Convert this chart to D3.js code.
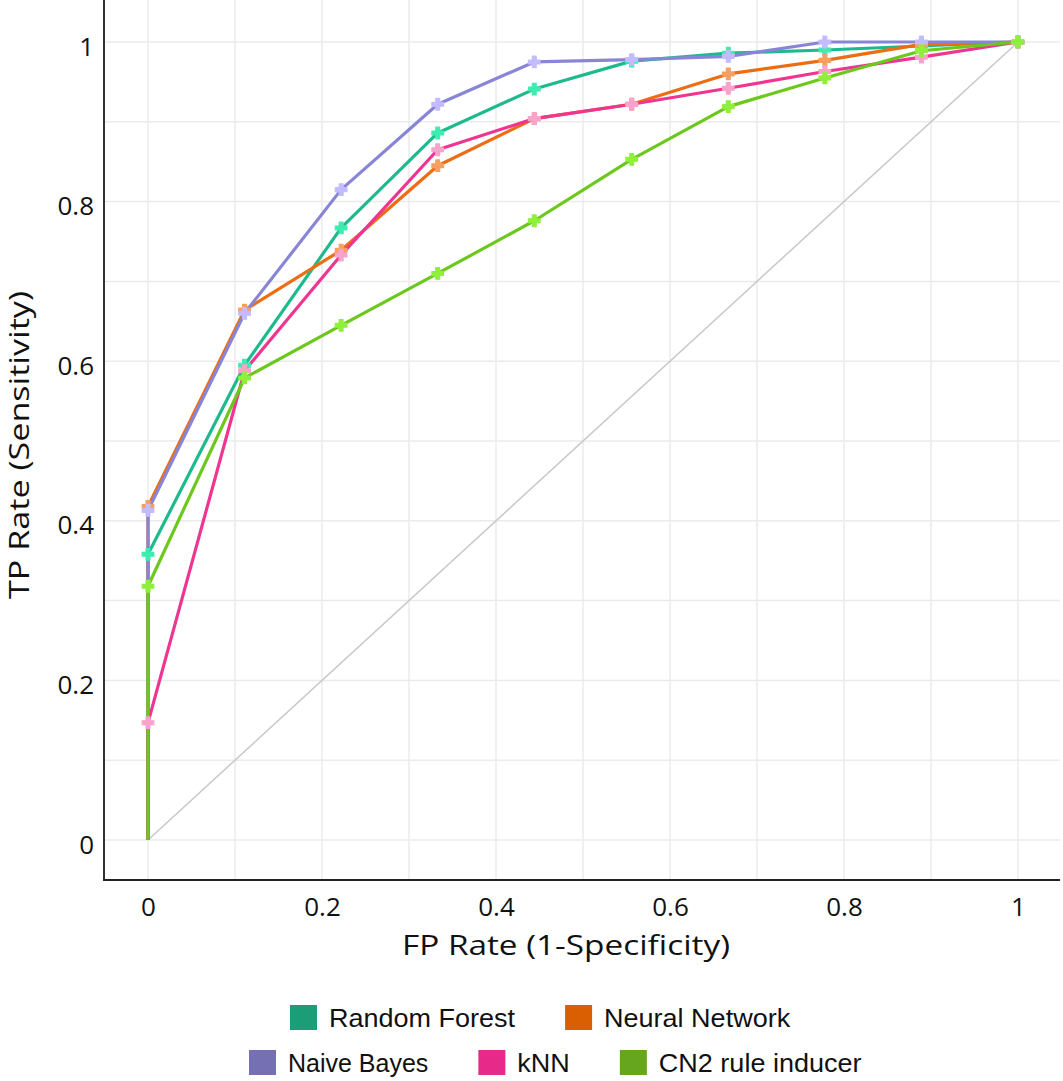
<!DOCTYPE html>
<html lang="en">
<head>
    <meta charset="UTF-8">
    <title>ROC curves</title>
    <style>
        body{
            margin:0;
            background:#fff;
        }
    </style>
    <script src="https://cdn.jsdelivr.net/npm/d3@7"></script>
</head>
<body>
<div id="container"></div>
</body>
<script>
    // FP rate positions shared by every curve
    var fpr = [0, 0, 0.111, 0.222, 0.333, 0.444, 0.556, 0.667, 0.778, 0.889, 1];

    var randomForest = [0, 0.358, 0.595, 0.767, 0.886, 0.941, 0.976, 0.986, 0.990, 0.995, 1];
    var neuralNetwork = [0, 0.418, 0.664, 0.739, 0.845, 0.904, 0.922, 0.960, 0.977, 0.997, 1];
    var naiveBayes = [0, 0.413, 0.660, 0.815, 0.922, 0.975, 0.978, 0.982, 1.0, 1.0, 1];
    var knn = [0, 0.147, 0.588, 0.733, 0.865, 0.904, 0.922, 0.942, 0.963, 0.981, 1];
    var cn2 = [0, 0.318, 0.579, 0.645, 0.710, 0.776, 0.853, 0.919, 0.955, 0.989, 1];

    var seriesNames = ['Random Forest', 'Neural Network', 'Naive Bayes', 'kNN', 'CN2 rule inducer'];
    var seriesValues = [randomForest, neuralNetwork, naiveBayes, knn, cn2];
    var legendRows = [['Random Forest', 'Neural Network'], ['Naive Bayes', 'kNN', 'CN2 rule inducer']];

    var tickValues = [0, 0.2, 0.4, 0.6, 0.8, 1];
    var gridValues = [0, 0.1, 0.2, 0.3, 0.4, 0.5, 0.6, 0.7, 0.8, 0.9, 1];

    var swatchColor = {
        'Random Forest': '#1b9e77', 'Neural Network': '#d95f02', 'Naive Bayes': '#7570b3',
        'kNN': '#e7298a', 'CN2 rule inducer': '#66a61e'
    };
    var lineColor = {
        'Random Forest': '#1fb98e', 'Neural Network': '#ee6c12', 'Naive Bayes': '#8985d6',
        'kNN': '#ee3590', 'CN2 rule inducer': '#6cc81c'
    };
    var markColor = {
        'Random Forest': '#3cecb0', 'Neural Network': '#f5a062', 'Naive Bayes': '#c2bbff',
        'kNN': '#f7a3cb', 'CN2 rule inducer': '#8ef03a'
    };

    var w = 1063, h = 1081;
    var axL = 104, axB = 880, plotR = 1060;

    var svg = d3.select('#container').append('svg').attr('width', w).attr('height', h);

    var x = d3.scaleLinear().domain([0, 1]).range([148, 1018]);
    var y = d3.scaleLinear().domain([0, 1]).range([840, 42]);

    // grid
    var grid = svg.append('g');
    grid.selectAll('.gx').data(gridValues).enter().append('line')
            .attr('x1', function (d) { return x(d); }).attr('x2', function (d) { return x(d); })
            .attr('y1', 0).attr('y2', axB)
            .attr('stroke', '#ebebeb').attr('stroke-width', 1.5);
    grid.selectAll('.gy').data(gridValues).enter().append('line')
            .attr('y1', function (d) { return y(d); }).attr('y2', function (d) { return y(d); })
            .attr('x1', axL).attr('x2', plotR)
            .attr('stroke', '#ebebeb').attr('stroke-width', 1.5);

    // axes: labels from d3 axis, no tick marks
    var xAxis = d3.axisBottom(x).tickValues(tickValues).tickSize(0).tickPadding(0)
            .tickFormat(d3.format('~g'));
    var yAxis = d3.axisLeft(y).tickValues(tickValues).tickSize(0).tickPadding(0)
            .tickFormat(d3.format('~g'));

    var gx = svg.append('g').attr('transform', 'translate(0,' + axB + ')').call(xAxis);
    gx.select('.domain').remove();
    gx.selectAll('text').attr('y', 36).attr('dy', 0)
            .attr('font-family', 'Open Sans').attr('font-size', 26).attr('fill', '#111');

    var gy = svg.append('g').attr('transform', 'translate(' + axL + ',0)').call(yAxis);
    gy.select('.domain').remove();
    gy.selectAll('text').attr('x', -10).attr('dy', '0.62em').attr('y', -3)
            .attr('font-family', 'Open Sans').attr('font-size', 26).attr('fill', '#111');

    svg.append('line').attr('x1', axL).attr('x2', axL).attr('y1', 0).attr('y2', axB + 1)
            .attr('stroke', '#333').attr('stroke-width', 2);
    svg.append('line').attr('x1', axL - 1).attr('x2', plotR).attr('y1', axB).attr('y2', axB)
            .attr('stroke', '#222').attr('stroke-width', 2);

    // diagonal
    svg.append('line').attr('x1', x(0)).attr('y1', y(0)).attr('x2', x(1)).attr('y2', y(1))
            .attr('stroke', '#c8c8c8').attr('stroke-width', 1.5);

    var line = d3.line()
            .x(function (d, i) { return x(fpr[i]); })
            .y(function (d) { return y(d); });

    seriesValues.forEach(function (vals, k) {
        var name = seriesNames[k];
        svg.append('path').datum(vals)
                .attr('d', line)
                .attr('fill', 'none')
                .attr('stroke', lineColor[name])
                .attr('stroke-width', 3.2)
                .attr('stroke-linejoin', 'round');
    });
    seriesValues.forEach(function (vals, k) {
        var name = seriesNames[k];
        svg.append('g').selectAll('path').data(vals.slice(1)).enter().append('path')
                .attr('d', d3.symbol().type(d3.symbolCross).size(75))
                .attr('transform', function (d, i) {
                    return 'translate(' + x(fpr[i + 1]) + ',' + y(d) + ')';
                })
                .attr('fill', markColor[name])
                .attr('stroke', markColor[name])
                .attr('stroke-width', 1.2)
                .attr('stroke-linejoin', 'round');
    });

    // titles
    svg.append('text').text('FP Rate (1-Specificity)')
            .attr('x', 566).attr('y', 955)
            .attr('text-anchor', 'middle')
            .attr('textLength', 328).attr('lengthAdjust', 'spacingAndGlyphs')
            .attr('font-family', 'Open Sans').attr('font-size', 27).attr('fill', '#111');
    svg.append('text').text('TP Rate (Sensitivity)')
            .attr('transform', 'translate(29,445) rotate(-90)')
            .attr('text-anchor', 'middle')
            .attr('textLength', 308).attr('lengthAdjust', 'spacingAndGlyphs')
            .attr('font-family', 'Open Sans').attr('font-size', 27).attr('fill', '#111');

    // legend rows, each starting at its own left edge
    var rowStart = [290, 249], sw = 27, swGap = 12, itemGap = 50;
    legendRows.forEach(function (row, r) {
        var top = 1005 + r * 45;
        var g = svg.append('g');
        var items = g.selectAll('g').data(row).enter().append('g');
        items.append('rect').attr('width', sw).attr('height', 25).attr('y', top)
                .attr('fill', function (d) { return swatchColor[d]; });
        items.append('text').text(function (d) { return d; })
                .attr('y', top + 22)
                .attr('font-family', 'Liberation Sans, Arial').attr('font-size', 25).attr('fill', '#111');
        var widths = [];
        items.select('text').each(function (d) {
            var k = d === 'Naive Bayes' ? 1.0 : 1.08;
            var wd = this.getComputedTextLength() * k;
            d3.select(this).attr('textLength', wd).attr('lengthAdjust', 'spacingAndGlyphs');
            widths.push(wd);
        });
        var cx = rowStart[r];
        items.each(function (d, i) {
            d3.select(this).attr('transform', 'translate(' + cx + ',0)');
            d3.select(this).select('text').attr('x', sw + swGap);
            cx += sw + swGap + widths[i] + itemGap;
        });
    });
</script>
</html>
